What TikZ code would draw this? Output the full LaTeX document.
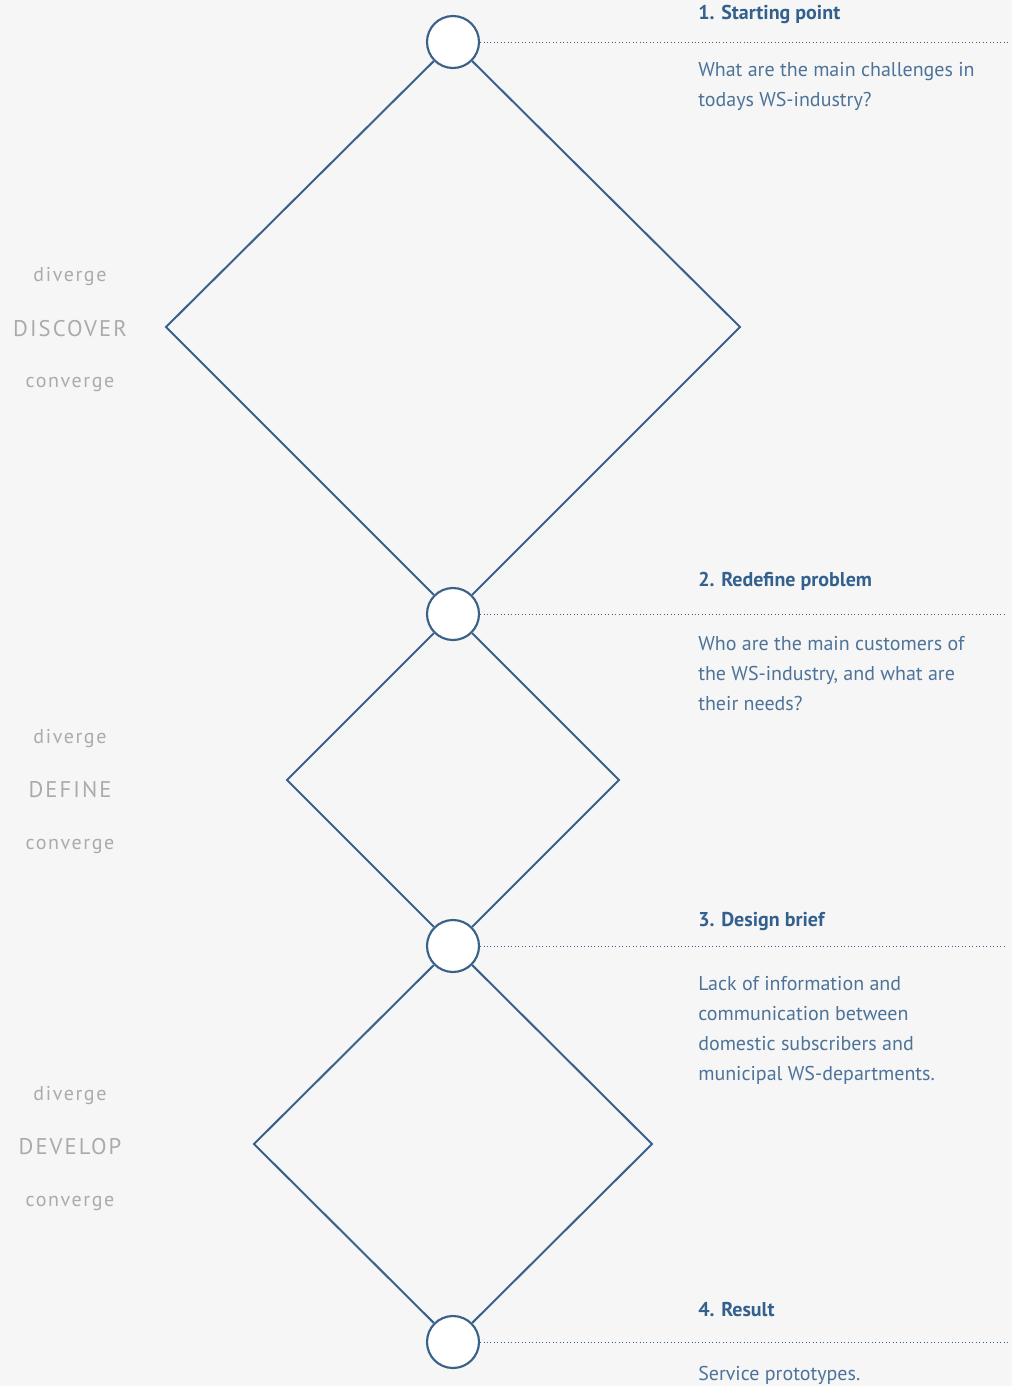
\documentclass[tikz,border=0pt]{standalone}
\usepackage{fontspec}
\setmainfont{PT Sans}
\usepackage{xcolor}
\definecolor{cLine}{HTML}{3A6189}
\definecolor{cTitle}{HTML}{33608C}
\definecolor{cText}{HTML}{4D7399}
\definecolor{cGray}{HTML}{ABABAE}
\definecolor{cBack}{HTML}{F6F6F6}
\usetikzlibrary{positioning,calc}
\tikzset{
  node-stage/.style={circle,draw=cLine,line width=1.6pt,fill=white,
    minimum size=39pt,inner sep=0pt},
  edge-diamond/.style={draw=cLine,line width=1.5pt},
  edge-dots/.style={draw=cLine,dotted,line width=0.6pt},
  text-title/.style={anchor=base west,inner sep=0pt,text=cTitle,
    font=\bfseries\fontsize{15}{18}\selectfont},
  % base of a multi-line node = its last line
  text-body/.style={anchor=base west,inner sep=0pt,align=left,text=cText,
    font=\fontsize{15}{22.5}\selectfont},
  text-phase/.style={anchor=base,inner sep=0pt,text=cGray,
    font=\fontsize{17}{20}\selectfont\addfontfeature{LetterSpace=9}},
  text-mode/.style={anchor=base,inner sep=0pt,text=cGray,
    font=\fontsize{15}{18}\selectfont\addfontfeature{LetterSpace=8}},
}

\begin{document}
\begin{tikzpicture}[x=0.75pt,y=-0.75pt]
  \fill[cBack] (0,0) rectangle (1012,1386);
  \useasboundingbox (0,0) rectangle (1012,1386);
  % diamond vertices
  \coordinate (l1) at (166,327);  \coordinate (r1) at (740,327);
  \coordinate (l2) at (287,780);  \coordinate (r2) at (619,780);
  \coordinate (l3) at (254,1144); \coordinate (r3) at (652,1144);
  % stage circles
  \node[node-stage] (s1) at (453,42)   {};
  \node[node-stage] (s2) at (453,614)  {};
  \node[node-stage] (s3) at (453,946)  {};
  \node[node-stage] (s4) at (453,1342) {};
  \draw[edge-diamond] (s1) -- (l1) -- (s2) -- (r1) -- (s1);
  \draw[edge-diamond] (s2) -- (l2) -- (s3) -- (r2) -- (s2);
  \draw[edge-diamond] (s3) -- (l3) -- (s4) -- (r3) -- (s3);
  % dotted leaders
  \coordinate (e1) at (1010,42);
  \coordinate (e2) at (1005,614);
  \coordinate (e3) at (1005,946);
  \coordinate (e4) at (1010,1342);
  \draw[edge-dots] (s1.east) -- (e1);
  \draw[edge-dots] (s2.east) -- (e2);
  \draw[edge-dots] (s3.east) -- (e3);
  \draw[edge-dots] (s4.east) -- (e4);
  % stage texts
  \node[text-title] (t1) at (698,19)   {1. Starting point};
  \node[text-body]  (b1) at (698,106)  {What are the main challenges in\\todays WS-industry?};
  \node[text-title] (t2) at (698,586)  {2. Redefine problem};
  \node[text-body]  (b2) at (698,710)  {Who are the main customers of\\the WS-industry, and what are\\their needs?};
  \node[text-title] (t3) at (698,926)  {3. Design brief};
  \node[text-body]  (b3) at (698,1080) {Lack of information and\\communication between\\domestic subscribers and\\municipal WS-departments.};
  \node[text-title] (t4) at (698,1316) {4. Result};
  \node[text-body]  (b4) at (698,1380) {Service prototypes.};
  % phase labels
  \node[text-mode]  (d1) at (70,281)  {diverge};
  \node[text-phase] (p1) at (70,336)  {DISCOVER};
  \node[text-mode]  (c1) at (70,387)  {converge};
  \node[text-mode]  (d2) at (70,743)  {diverge};
  \node[text-phase] (p2) at (70,797)  {DEFINE};
  \node[text-mode]  (c2) at (70,849)  {converge};
  \node[text-mode]  (d3) at (70,1100) {diverge};
  \node[text-phase] (p3) at (70,1154) {DEVELOP};
  \node[text-mode]  (c3) at (70,1206) {converge};
\end{tikzpicture}
\end{document}
